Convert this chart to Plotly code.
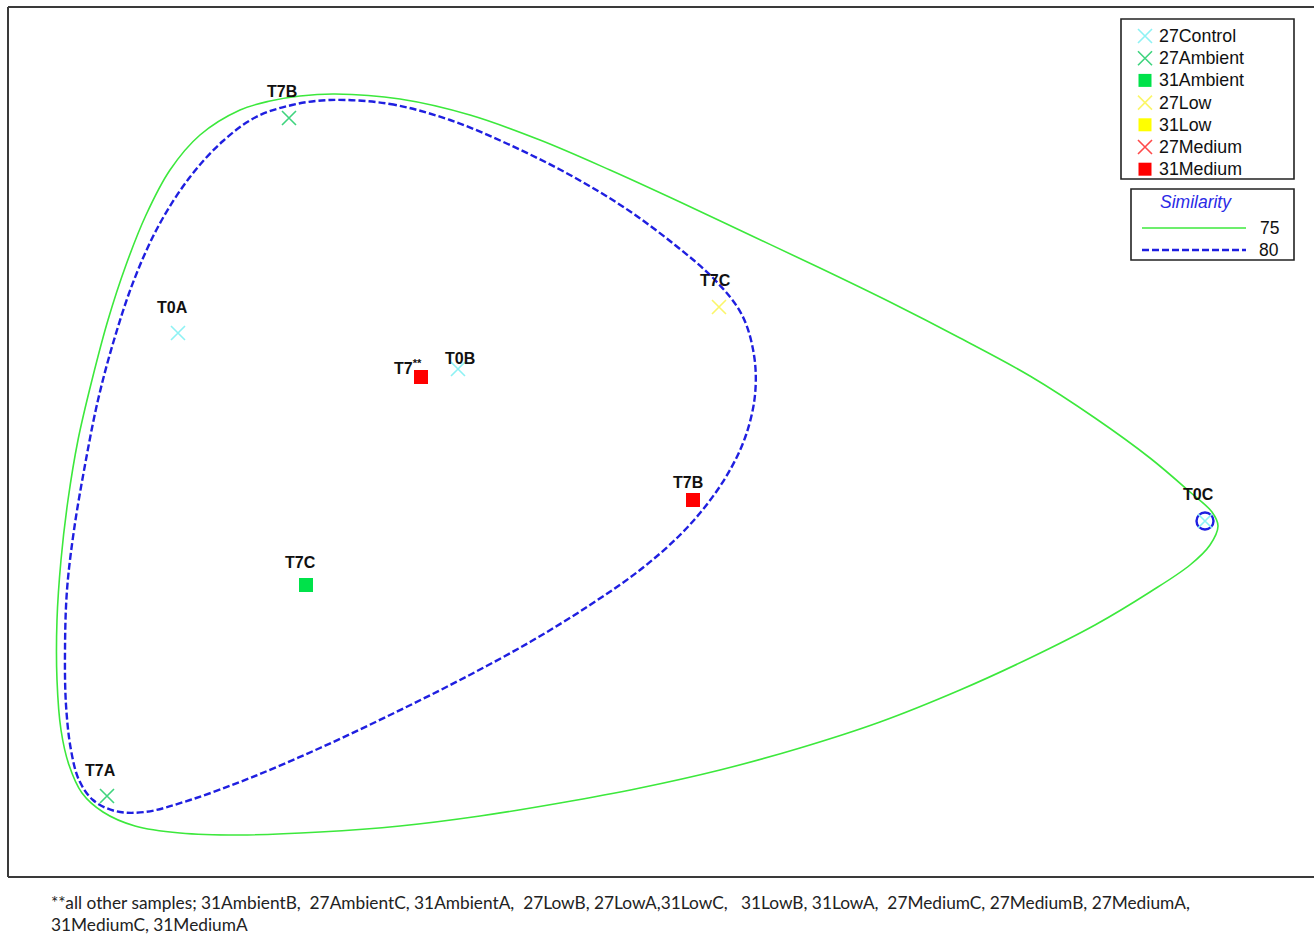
import plotly.graph_objects as go

# ---- sample positions (ordination plane, page-pixel units) ----
groups = ["27Control", "27Ambient", "31Ambient", "27Low", "31Low", "27Medium", "31Medium"]
group_colors = ["#8ef2f4", "#3fd47e", "#00e24a", "#fbf66a", "#ffff00", "#ff4a4a", "#ff0000"]
group_symbols = ["x-thin", "x-thin", "square", "x-thin", "square", "x-thin", "square"]

sample_group = ["27Control", "27Control", "27Control", "27Ambient", "27Ambient", "27Low", "31Medium", "31Medium", "31Ambient"]
sample_label = ["T0A", "T0B", "T0C", "T7B", "T7A", "T7C", "T7<sup>**</sup>", "T7B", "T7C"]
sample_x = [178, 458, 1205, 289, 107, 719, 421, 693, 306]
sample_y = [333, 369, 521, 118, 796, 307, 377, 500, 585]
label_x = [172, 460, 1198, 282, 100, 715, 408, 688, 300]
label_y = [307, 358, 494, 91, 770, 280, 367, 482, 562]

# highlighted sample (open circle)
ring_x = [1205]
ring_y = [521]

# similarity contours
sim_levels = ["75", "80"]
c75_x = [335, 400, 470, 540, 610, 680, 750, 820, 890, 960, 1030, 1095, 1150, 1190, 1212, 1218, 1210, 1190,
         1150, 1095, 1030, 960, 880, 800, 720, 640, 560, 480, 400, 320, 240, 180, 135, 103, 82, 69, 61, 57,
         57, 61, 68, 78, 92, 108, 126, 146, 170, 200, 240, 270, 300, 335]
c75_y = [94, 99, 115, 140, 170, 202, 235, 268, 302, 338, 376, 418, 458, 492, 512, 526, 545, 565,
         592, 625, 658, 690, 722, 748, 770, 788, 803, 816, 826, 832, 835, 833, 826, 812, 793, 765, 730, 680,
         620, 560, 500, 440, 380, 320, 265, 215, 170, 135, 110, 101, 96, 94]
c80_x = [330, 390, 450, 510, 570, 625, 675, 715, 742, 754, 755, 746, 730, 708, 680, 640, 590, 530, 460,
         390, 320, 250, 190, 145, 115, 93, 79, 71, 66, 65, 67, 74, 85, 98, 114, 134, 159, 190, 223, 256,
         292, 330]
c80_y = [100, 104, 120, 145, 175, 208, 245, 280, 315, 355, 395, 435, 470, 503, 535, 570, 605, 642, 680,
         715, 748, 778, 800, 812, 811, 800, 780, 750, 705, 650, 590, 530, 465, 400, 340, 280, 225, 177, 141,
         117, 105, 100]

FONT = "Liberation Sans, Arial, sans-serif"
GREEN75 = "#3ce83c"
BLUE80 = "#1f1fe0"

fig = go.Figure()

fig.add_trace(go.Scatter(x=c75_x, y=c75_y, mode="lines",
                         line=dict(color=GREEN75, width=1.6, shape="spline", smoothing=1.0),
                         hoverinfo="skip", showlegend=False))
fig.add_trace(go.Scatter(x=c80_x, y=c80_y, mode="lines",
                         line=dict(color=BLUE80, width=2.4, dash="7px,3px", shape="spline", smoothing=1.0),
                         hoverinfo="skip", showlegend=False))

fig.add_trace(go.Scatter(x=ring_x, y=ring_y, mode="markers",
                         marker=dict(symbol="circle-open", size=17, line=dict(color=BLUE80, width=2.4), color=BLUE80),
                         hoverinfo="skip", showlegend=False))

for g, col, sym in zip(groups, group_colors, group_symbols):
    xs = [x for x, s in zip(sample_x, sample_group) if s == g]
    ys = [y for y, s in zip(sample_y, sample_group) if s == g]
    if not xs:
        continue
    if sym == "square":
        mk = dict(symbol="square", size=14, color=col, line=dict(width=0))
    else:
        mk = dict(symbol="x-thin", size=14, line=dict(color=col, width=1.6), color=col)
    fig.add_trace(go.Scatter(x=xs, y=ys, mode="markers", marker=mk, name=g, showlegend=False))

annotations = []
for lx, ly, t in zip(label_x, label_y, sample_label):
    annotations.append(dict(x=lx, y=ly, xref="x", yref="y", text=f"<b>{t}</b>", showarrow=False,
                            xanchor="center", yanchor="middle", font=dict(family=FONT, size=16, color="#111")))

# ---- group key ----
key_x0, key_x1, key_y0, key_y1 = 1121, 1294, 19, 179
row_y0, row_dy = 36, 22.2
shapes = [dict(type="rect", xref="x", yref="y", x0=key_x0, x1=key_x1, y0=key_y0, y1=key_y1,
               line=dict(color="#222", width=1.6), fillcolor="white", layer="below")]
key_rows = [row_y0 + i * row_dy for i in range(len(groups))]
for g, col, sym, ry in zip(groups, group_colors, group_symbols, key_rows):
    if sym == "square":
        mk = dict(symbol="square", size=13, color=col, line=dict(width=0))
    else:
        mk = dict(symbol="x-thin", size=14, line=dict(color=col, width=1.6), color=col)
    fig.add_trace(go.Scatter(x=[1145], y=[ry], mode="markers", marker=mk, hoverinfo="skip", showlegend=False))
    annotations.append(dict(x=1157, y=ry, xref="x", yref="y", text=g, showarrow=False, xanchor="left",
                            yanchor="middle", font=dict(family=FONT, size=17.8, color="#111")))

# ---- similarity key ----
shapes.append(dict(type="rect", xref="x", yref="y", x0=1131, x1=1294, y0=189, y1=260,
                   line=dict(color="#222", width=1.6), fillcolor="white", layer="below"))
annotations.append(dict(x=1196, y=202, xref="x", yref="y", text="<i>Similarity</i>", showarrow=False,
                        xanchor="center", yanchor="middle", font=dict(family=FONT, size=17.5, color="#2a2ae6")))
sim_styles = [dict(color=GREEN75, width=1.6), dict(color=BLUE80, width=2.4, dash="7px,3px")]
for lvl, st, ry in zip(sim_levels, sim_styles, [228, 250]):
    fig.add_trace(go.Scatter(x=[1142, 1246], y=[ry, ry], mode="lines", line=st, hoverinfo="skip", showlegend=False))
    annotations.append(dict(x=1281, y=ry, xref="x", yref="y", text=lvl, showarrow=False, xanchor="right",
                            yanchor="middle", font=dict(family=FONT, size=17.5, color="#111")))

# ---- footnote below the frame ----
note = ("**all other samples; 31AmbientB,&nbsp; 27AmbientC, 31AmbientA,&nbsp; 27LowB, 27LowA,31LowC,&nbsp;&nbsp; "
        "31LowB, 31LowA,&nbsp; 27MediumC, 27MediumB, 27MediumA,<br>31MediumC, 31MediumA")
annotations.append(dict(x=(49 - 8) / 1306, y=-(890 - 877) / 870, xref="paper", yref="paper", text=note,
                        showarrow=False, xanchor="left", yanchor="top", align="left",
                        font=dict(family="Lato, sans-serif", size=17.3, color="#222")))

# frame: left, top, bottom
shapes += [
    dict(type="line", xref="paper", yref="paper", x0=0, x1=0, y0=0, y1=1, line=dict(color="#3a3a3a", width=2)),
    dict(type="line", xref="paper", yref="paper", x0=0, x1=1, y0=1, y1=1, line=dict(color="#3a3a3a", width=2)),
    dict(type="line", xref="paper", yref="paper", x0=0, x1=1, y0=0, y1=0, line=dict(color="#3a3a3a", width=2)),
]

fig.update_layout(
    width=1314, height=934,
    margin=dict(l=8, r=0, t=7, b=57),
    paper_bgcolor="white", plot_bgcolor="white",
    xaxis=dict(range=[8, 1314], visible=False, fixedrange=True),
    yaxis=dict(range=[877, 7], visible=False, fixedrange=True),
    shapes=shapes, annotations=annotations, showlegend=False,
)

fig.write_html("out.html")
